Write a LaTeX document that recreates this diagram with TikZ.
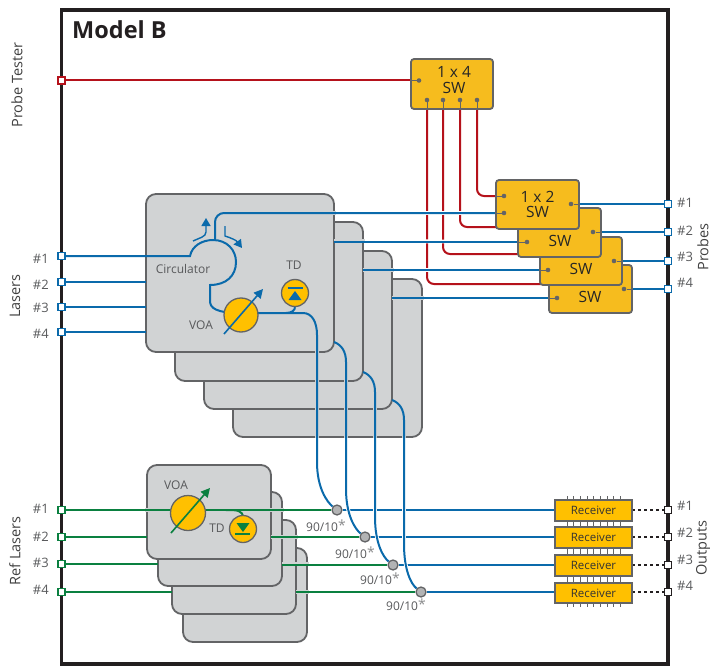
\documentclass[tikz,border=0pt]{standalone}
\usepackage{fontspec}
\setmainfont{Open Sans}
\usetikzlibrary{arrows.meta,calc}
\pgfdeclarelayer{graylayer}
\pgfdeclarelayer{wires}
\pgfsetlayers{graylayer,wires,main}
\definecolor{cblue}{HTML}{0A6AAB}
\definecolor{cred}{HTML}{B5121B}
\definecolor{cgreen}{HTML}{0A8040}
\definecolor{cgold}{HTML}{F6BC1E}
\definecolor{cvoa}{HTML}{FFC000}
\definecolor{cgray}{HTML}{D1D3D4}
\definecolor{cedge}{HTML}{636466}
\definecolor{ctext}{HTML}{58595B}
\definecolor{cframe}{HTML}{231F20}
\newcommand{\Bx}[7]{%
  \pgfmathsetmacro{\bw}{#5-#3}\pgfmathsetmacro{\bh}{#6-#4}%
  \node[#1,anchor=north west,minimum width=\bw pt,minimum height=\bh pt] (#2) at (#3,#4) {#7};}
\tikzset{
  x=1pt,y=-1pt,
  bx/.style={rectangle,inner sep=0pt,outer sep=0pt,line width=1.8pt,draw=cedge},
  graybox/.style={bx,fill=cgray,rounded corners=10pt},
  swbox/.style={bx,fill=cgold,rounded corners=3pt,text=black!85,font=\fontsize{15.5}{16.5}\selectfont,align=center},
  swtext/.style={inner sep=0pt,text=black!85,font=\fontsize{15.5}{16.5}\selectfont,align=center},
  recv/.style={bx,fill=cvoa,line width=2pt,text=black!80,font=\fontsize{11.5}{12}\selectfont},
  port/.style={rectangle,minimum size=7pt,inner sep=0pt,fill=white,draw=#1,line width=1.3pt},
  dot/.style={circle,fill=cedge,inner sep=0pt,minimum size=4.6pt},
  stub/.style={cedge,line width=.9pt},
  lbl/.style={text=ctext,font=\fontsize{12}{14}\selectfont,inner sep=0pt},
  hash/.style={lbl,font=\fontsize{13}{15}\selectfont},
  side/.style={lbl,rotate=90,text=black!75,font=\fontsize{14.5}{16}\selectfont},
  voa/.style={circle,fill=cvoa,draw=cedge,line width=1.3pt,inner sep=0pt,minimum size=#1},
  bw/.style={cblue,line width=2pt},
  rw/.style={cred,line width=2pt},
  gw/.style={cgreen,line width=2pt},
  hw/.style={white,line width=3.8pt},
  hg/.style={cgray,line width=3.8pt},
  tap/.style={circle,fill=cgray!85!black,draw=cedge,line width=1.3pt,inner sep=0pt,minimum size=10pt},
  tip/.style={-{Triangle[length=9pt,width=9pt]}},
}
\begin{document}
\begin{tikzpicture}
\useasboundingbox (0,0) rectangle (712,666);
% gray boxes
\begin{pgfonlayer}{graylayer}
\Bx{graybox}{L4}{233}{279}{422}{437}{}
\Bx{graybox}{L3}{204}{251}{392}{409}{}
\Bx{graybox}{L2}{175}{222}{363}{381}{}
\Bx{graybox}{L1}{146}{194}{334}{352}{}
\Bx{graybox}{R4}{183}{548}{307}{642}{}
\Bx{graybox}{R3}{172}{520}{296}{614}{}
\Bx{graybox}{R2}{158}{492}{282}{586}{}
\Bx{graybox}{R1}{147}{465}{271}{559}{}
\end{pgfonlayer}
% frame
\node[rectangle,draw=cframe,line width=3.6pt,inner sep=0pt,outer sep=0pt,anchor=north west,minimum width=606.5pt,minimum height=654pt] (frame) at (61.5,10) {};
\node[anchor=west,inner sep=0pt,text=cframe,font=\fontsize{23.5}{26}\selectfont\bfseries] (title) at (72,30) {Model B};
% switches
\Bx{swbox}{sw4}{549}{265}{632}{313}{}
\Bx{swbox}{sw3}{540}{237}{622}{285}{}
\Bx{swbox}{sw2}{518}{208}{601}{257}{}
\Bx{swbox}{sw1}{496}{180}{579}{229}{1 x 2\\[-1pt]SW}
\Bx{swbox}{swm}{411}{59}{493}{109}{}
\node[swtext] (tm) at (454,80) {1 x 4\\[-1pt]SW};
\node[swtext] (t2) at (560,241) {SW};
\node[swtext] (t3) at (581,269) {SW};
\node[swtext] (t4) at (590,297) {SW};
% switch dots
\node[dot] (mi) at (419,80.5) {};
\node[dot] (m1) at (427,100) {};
\node[dot] (m2) at (443,100) {};
\node[dot] (m3) at (460,100) {};
\node[dot] (m4) at (477,100) {};
\node[dot] (s1r) at (504,196) {};
\node[dot] (s1b) at (504,213) {};
\node[dot] (s1o) at (571,204) {};
\node[dot] (s2b) at (527,242) {};
\node[dot] (s2o) at (593,232) {};
\node[dot] (s3b) at (548,270) {};
\node[dot] (s3o) at (614,261) {};
\node[dot] (s4b) at (557,298) {};
\node[dot] (s4o) at (624,289) {};
\coordinate (s2r) at (527,227);
\coordinate (s3r) at (548,254);
\coordinate (s4r) at (557,284);
\draw[stub] (mi) -- (mi -| swm.west);
\foreach \n in {m1,m2,m3,m4} \draw[stub] (\n) -- (\n |- swm.south);
\draw[stub] (s1r) -- (s1r -| sw1.west);
\draw[stub] (s1b) -- (s1b -| sw1.west);
\draw[stub] (s1o) -- (s1o -| sw1.east);
\draw[stub] (s2b) -- (s2b -| sw2.west);
\draw[stub] (s2o) -- (s2o -| sw2.east);
\draw[stub] (s3b) -- (s3b -| sw3.west);
\draw[stub] (s3o) -- (s3o -| sw3.east);
\draw[stub] (s4b) -- (s4b -| sw4.west);
\draw[stub] (s4o) -- (s4o -| sw4.east);
% ports
\node[port=cred] (pt) at (61.5,80.5) {};
\foreach \n/\y in {1/256,2/282,3/307,4/332} \node[port=cblue] (la\n) at (61.5,\y) {};
\foreach \n/\y in {1/510,2/537,3/564,4/592} \node[port=cgreen] (rl\n) at (61.5,\y) {};
\foreach \n/\y in {1/204,2/232,3/261,4/289} \node[port=cblue] (pr\n) at (668,\y) {};
\foreach \n/\y in {1/510,2/537,3/565,4/592} \node[port=cframe] (ou\n) at (668,\y) {};
% receivers
\Bx{recv}{rc1}{555}{500}{632}{521}{Receiver}
\Bx{recv}{rc2}{555}{527}{632}{548}{Receiver}
\Bx{recv}{rc3}{555}{555}{632}{576}{Receiver}
\Bx{recv}{rc4}{555}{583}{632}{603}{Receiver}
\foreach \r in {rc1,rc2,rc3,rc4}
  \foreach \k in {0,...,8} {
    \draw[cedge,line width=.8pt] ($(\r.north west)+(12+6.67*\k,-1)$) -- ++(0,-2.6);
    \draw[cedge,line width=.8pt] ($(\r.south west)+(12+6.67*\k,1)$) -- ++(0,2.6);
  }
% couplers
\node[tap] (c1) at (337,510) {};
\node[tap] (c2) at (365,537) {};
\node[tap] (c3) at (393,565) {};
\node[tap] (c4) at (421,592) {};
% upper VOA, TD
\node[voa=34pt] (voaB) at (241,315) {};
\node[voa=27pt] (tdB) at (295,293) {};
\coordinate (voaBa) at (224,334);
\coordinate (voaBb) at (263,289);
\draw[cblue,line width=1.6pt,tip] (voaBa) -- (voaBb);
\fill[cblue] (295,291) -- (301.5,300) -- (288.5,300) -- cycle;
\draw[cblue,line width=2.5pt] (287.5,288) -- (302.5,288);
% lower VOA, TD
\node[voa=35pt] (voaG) at (188,513) {};
\node[voa=27pt] (tdG) at (243,529) {};
\coordinate (voaGa) at (171,533);
\coordinate (voaGb) at (210,488);
\draw[cgreen,line width=1.6pt,tip] (voaGa) -- (voaGb);
\fill[cgreen] (236.5,523) -- (249.5,523) -- (243,532) -- cycle;
\draw[cgreen,line width=2.5pt] (235,534) -- (250,534);
% circulator arrows
\coordinate (cA) at (193,241);
\coordinate (cB) at (206,218);
\coordinate (cC) at (225,226);
\coordinate (cD) at (242,248);
\draw[cblue,line width=1.4pt,-{Triangle[length=8pt,width=9pt]}] (cA) .. controls (199,238) and (206,237) .. (206,232) -- (cB);
\draw[cblue,line width=1.4pt,-{Triangle[length=8pt,width=9pt]}] (cC) -- (225,236) .. controls (231,238) and (236,240) .. (cD);
% labels
\node[lbl] (tc) at (183,269) {Circulator};
\node[lbl] (tv) at (201,325) {VOA};
\node[lbl] (ttd) at (294,265) {TD};
\node[lbl] (tv2) at (176,485) {VOA};
\node[lbl] (ttd2) at (217,528) {TD};
\foreach \n/\x/\y in {1/326/526,2/355/553,3/380/579,4/406/605}
  \node[lbl,font=\fontsize{12}{13}\selectfont] (sp\n) at (\x,\y) {90/10\raisebox{1pt}{\fontsize{14}{14}\selectfont\color{ctext!70} *}};
\foreach \n/\y in {1/259,2/285,3/308,4/334} \node[hash,anchor=east] (hl\n) at (49,\y) {\#\n};
\foreach \n/\y in {1/509,2/537,3/563,4/590} \node[hash,anchor=east] (hr\n) at (49,\y) {\#\n};
\foreach \n/\y in {1/203,2/231,3/257,4/283} \node[hash,anchor=west] (hp\n) at (677,\y) {\#\n};
\foreach \n/\y in {1/506,2/533,3/560,4/586} \node[hash,anchor=west] (ho\n) at (677,\y) {\#\n};
\node[side] (sa) at (17,85) {Probe Tester};
\node[side] (sb) at (15,296) {Lasers};
\node[side] (sc) at (15,551) {Ref Lasers};
\node[side] (sd) at (703,247) {Probes};
\node[side] (se) at (703,548) {Outputs};
% wires
\begin{pgfonlayer}{wires}
% red
\draw[rw] (pt) -- (mi);
\draw[rw,rounded corners=7pt] (m4) |- (s1r);
\draw[rw,rounded corners=7pt] (m3) |- (s2r);
\draw[rw,rounded corners=7pt] (m2) |- (s3r);
\draw[rw,rounded corners=7pt] (m1) |- (s4r);
% halos to switches
\draw[hw] (335,213) -- (s1b);
\draw[hg] (322,213) -- (336,213);
\draw[hg] (334,241) -- (365,241);
\draw[hw] (365,241) -- (s2b);
\draw[hg] (363,270) -- (394,270);
\draw[hw] (394,270) -- (s3b);
\draw[hg] (392,298) -- (424,298);
\draw[hw] (424,298) -- (s4b);
% lasers
\coordinate (ci) at (190,256);
\draw[bw] (la1) -- (ci) .. controls (192,246) and (202,240) .. (213,240)
   .. controls (227,240) and (236,250) .. (236,262)
   .. controls (236,276) and (226,285) .. (210,285) -- (210,301)
   .. controls (210,308) and (216,313) .. (voaB |- 0,313);
\draw[bw] (la2) -- (la2 -| L1.west);
\draw[bw] (la3) -- (la3 -| L1.west);
\draw[bw] (la4) -- (la4 -| L1.west);
\draw[bw,rounded corners=9pt] (215,240) |- (s1b);
\draw[bw] (L1.east |- s2b) -- (s2b);
\draw[bw] (L2.east |- s3b) -- (s3b);
\draw[bw] (L3.east |- s4b) -- (s4b);
% probe outs
\draw[bw] (s1o) -- (pr1);
\draw[bw] (s2o) -- (pr2);
\draw[bw] (s3o) -- (pr3);
\draw[bw] (s4o) -- (pr4);
% green
\draw[hg] (145,510) -- (150,510);
\draw[hg] (262,510) -- (284,510);
\draw[hg] (271,537) -- (298,537);
\draw[hg] (282,564) -- (309,564);
\draw[hg] (296,592) -- (309,592);
\draw[gw] (rl1) -- (c1);
\draw[gw] (rl2) -- (rl2 -| R1.west);
\draw[gw] (rl3) -- (rl3 -| R2.west);
\draw[gw] (rl4) -- (rl4 -| R3.west);
\draw[gw] (R1.east |- c2) -- (c2);
\draw[gw] (R2.east |- c3) -- (c3);
\draw[gw] (R3.east |- c4) -- (c4);
\draw[gw] (226,510) .. controls (237,510) and (243,510) .. (243,518);
% to receivers
\draw[bw] (c1) -- (c1 -| rc1.west);
\draw[bw] (c2) -- (c2 -| rc2.west);
\draw[bw] (c3) -- (c3 -| rc3.west);
\draw[bw] (c4) -- (c4 -| rc4.west);
\foreach \n in {1,2,3,4} \draw[cframe,line width=1.5pt,dash pattern=on 3.4pt off 2.6pt] (ou\n -| rc\n.east) -- (ou\n);
% vertical halos
\draw[hg] (317,340) -- (317,438);
\draw[hw] (317,439) -- (317,462) .. controls (317,488) and (327,502) .. (c1);
\draw[hg] (346,365) -- (346,438);
\draw[hw] (346,439) -- (346,489) .. controls (346,515) and (355,529) .. (c2);
\draw[hg] (375,395) -- (375,438);
\draw[hw] (375,439) -- (375,517) .. controls (375,543) and (383,557) .. (c3);
\draw[hg] (404,425) -- (404,438);
\draw[hw] (404,439) -- (404,544) .. controls (404,570) and (411,584) .. (c4);
% verticals
\draw[bw] (voaB |- 0,313) -- (303,313) .. controls (312,313) and (317,322) .. (317,335) -- (317,462) .. controls (317,488) and (327,502) .. (c1);
\draw[bw] (L1.east |- 0,342) .. controls (342,345) and (346,352) .. (346,362) -- (346,489) .. controls (346,515) and (355,529) .. (c2);
\draw[bw] (L2.east |- 0,372) .. controls (371,375) and (375,382) .. (375,392) -- (375,517) .. controls (375,543) and (383,557) .. (c3);
\draw[bw] (L3.east |- 0,400) .. controls (400,403) and (404,410) .. (404,420) -- (404,544) .. controls (404,570) and (411,584) .. (c4);
\draw[bw] (286,313) .. controls (292,313) and (295,310) .. (tdB);
\end{pgfonlayer}
\end{tikzpicture}
\end{document}
